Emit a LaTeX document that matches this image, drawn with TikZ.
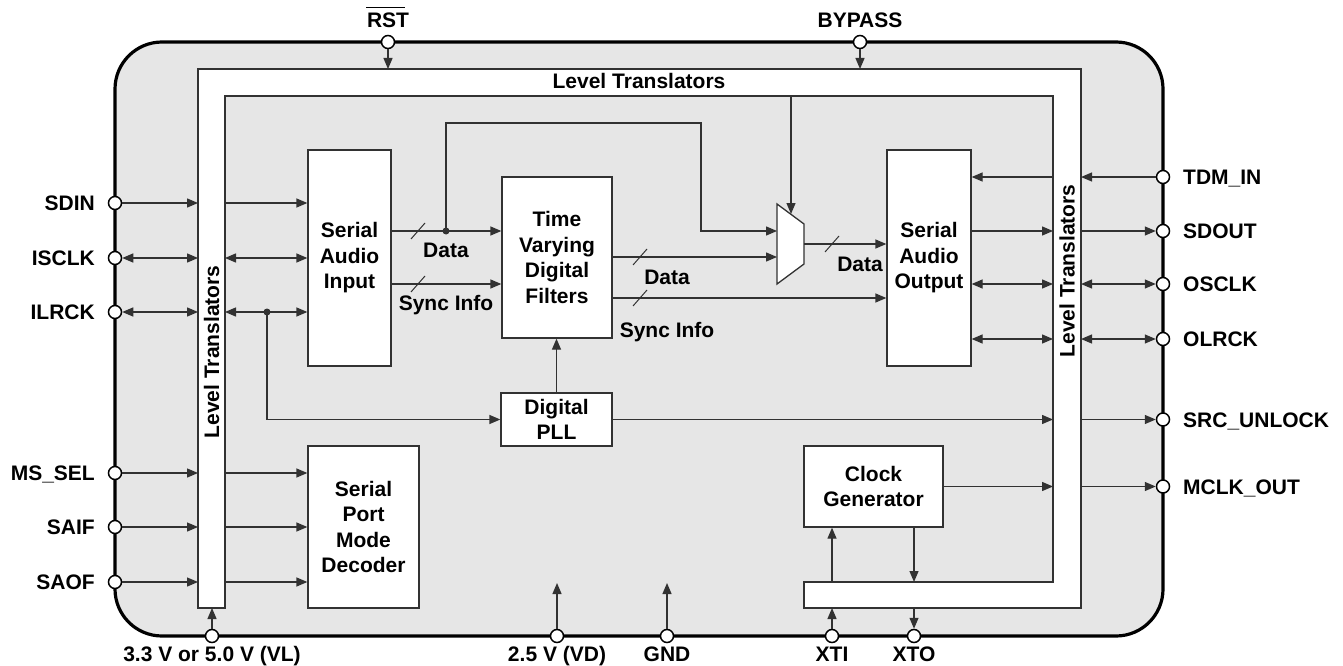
\documentclass[tikz,border=0pt]{standalone}
\usepackage{fontspec}
\setmainfont{Liberation Sans}
\usetikzlibrary{arrows.meta,calc}
\definecolor{bggray}{RGB}{230,230,230}
\definecolor{ln}{RGB}{50,50,50}
\begin{document}
\begin{tikzpicture}[x=1pt,y=-1pt,
  lbl/.style={font=\bfseries\fontsize{21}{25.5}\selectfont, inner sep=0pt},
  blk/.style={draw=ln, line width=1.3pt, fill=white, inner sep=0pt, align=center, font=\bfseries\fontsize{21}{25.5}\selectfont},
  pin/.style={circle, draw=black, line width=1.5pt, fill=white, minimum size=13pt, inner sep=0pt},
  conn/.style={draw=ln, line width=1.3pt, -{Triangle[length=11pt,width=9pt]}},
  bidir/.style={draw=ln, line width=1.3pt, {Triangle[length=11pt,width=9pt]}-{Triangle[length=11pt,width=9pt]}},
  wire/.style={draw=ln, line width=1.3pt},
  bus/.style={draw=ln, line width=1pt},
]
\useasboundingbox (0,0) rectangle (1343,666);

% chip outline
\draw[line width=3.2pt, fill=bggray, rounded corners=47pt] (115,42) rectangle (1163,636);

% level translator band
\draw[ln, line width=1.3pt, fill=white] (198,608) -- (198,69) -- (1081,69) -- (1081,608) -- (804,608) -- (804,582) -- (1053,582) -- (1053,96) -- (225,96) -- (225,608) -- cycle;
\coordinate (LTo) at (198,0);
\coordinate (LTi) at (225,0);
\coordinate (RTi) at (1053,0);
\coordinate (RTo) at (1081,0);
\coordinate (TTo) at (0,69);
\coordinate (TTi) at (0,96);
\coordinate (BTi) at (0,582);
\coordinate (BTo) at (0,608);
\node[lbl, anchor=base] (ltTop) at (639,89) {Level Translators};
\node[lbl, anchor=base, rotate=90] (ltLeft) at (219,352) {Level Translators};
\node[lbl, anchor=base, rotate=90] (ltRight) at (1074.5,271) {Level Translators};

% blocks
\node[blk, minimum width=83pt, minimum height=216pt] (SAI) at (349.5,258) {Serial\\Audio\\Input};
\node[blk, minimum width=110pt, minimum height=161pt] (TVDF) at (557,257.5) {Time\\Varying\\Digital\\Filters};
\node[blk, minimum width=84pt, minimum height=216pt] (SAO) at (929,258) {Serial\\Audio\\Output};
\node[blk, minimum width=111pt, minimum height=162pt] (SPMD) at (363.5,527) {Serial\\Port\\Mode\\Decoder};
\node[blk, minimum width=111pt, minimum height=53pt] (PLL) at (556.5,419.5) {Digital\\PLL};
\node[blk, minimum width=139pt, minimum height=81pt] (CLK) at (873.5,486.5) {Clock\\Generator};

% mux
\draw[ln, line width=1.3pt, fill=white] (777,204) -- (804,224) -- (804,264) -- (777,284) -- cycle;
\coordinate (m1) at (777,231);
\coordinate (m2) at (777,257);
\coordinate (mo) at (804,244);
\coordinate (mt) at (791,214);

% pins
\node[pin] (pSDIN) at (115,203) {};
\node[pin] (pISCLK) at (115,258) {};
\node[pin] (pILRCK) at (115,312) {};
\node[pin] (pMS) at (115,473) {};
\node[pin] (pSAIF) at (115,527) {};
\node[pin] (pSAOF) at (115,582) {};
\node[pin] (pTDM) at (1163,177) {};
\node[pin] (pSDOUT) at (1163,231) {};
\node[pin] (pOSCLK) at (1163,284) {};
\node[pin] (pOLRCK) at (1163,339) {};
\node[pin] (pSRC) at (1163,419.5) {};
\node[pin] (pMCLK) at (1163,486.5) {};
\node[pin] (pRST) at (388,42) {};
\node[pin] (pBYP) at (860,42) {};
\node[pin] (pVL) at (212,636) {};
\node[pin] (pVD) at (557,636) {};
\node[pin] (pGND) at (667,636) {};
\node[pin] (pXTI) at (832,636) {};
\node[pin] (pXTO) at (914,636) {};

% pin labels
\node[lbl, anchor=base east] (tSDIN) at (95,210.5) {SDIN};
\node[lbl, anchor=base east] (tISCLK) at (95,265.5) {ISCLK};
\node[lbl, anchor=base east] (tILRCK) at (95,319.5) {ILRCK};
\node[lbl, anchor=base east] (tMS) at (95,480.5) {MS\_SEL};
\node[lbl, anchor=base east] (tSAIF) at (95,534.5) {SAIF};
\node[lbl, anchor=base east] (tSAOF) at (95,589.5) {SAOF};
\node[lbl, anchor=base west] (tTDM) at (1183,184.5) {TDM\_IN};
\node[lbl, anchor=base west] (tSDOUT) at (1183,238.5) {SDOUT};
\node[lbl, anchor=base west] (tOSCLK) at (1183,291.5) {OSCLK};
\node[lbl, anchor=base west] (tOLRCK) at (1183,346.5) {OLRCK};
\node[lbl, anchor=base west] (tSRC) at (1183,427) {SRC\_UNLOCK};
\node[lbl, anchor=base west] (tMCLK) at (1183,494) {MCLK\_OUT};
\node[lbl, anchor=base] (tRST) at (388,28) {RST};
\draw[line width=1.6pt] ([xshift=-0.5pt]tRST.north west) ++(0,-5.5) -- ++(38.5,0);
\node[lbl, anchor=base] (tBYP) at (860,28) {BYPASS};
\node[lbl, anchor=base] (tVL) at (212,661) {3.3 V or 5.0 V (VL)};
\node[lbl, anchor=base] (tVD) at (557,661) {2.5 V (VD)};
\node[lbl, anchor=base] (tGND) at (667,661) {GND};
\node[lbl, anchor=base] (tXTI) at (832,661) {XTI};
\node[lbl, anchor=base] (tXTO) at (914,661) {XTO};

% left side connectors
\draw[conn] (pSDIN) -- (pSDIN -| LTo);
\draw[conn] (pSDIN -| LTi) -- (pSDIN -| SAI.west);
\draw[bidir] (pISCLK) -- (pISCLK -| LTo);
\draw[bidir] (pISCLK -| LTi) -- (pISCLK -| SAI.west);
\draw[bidir] (pILRCK) -- (pILRCK -| LTo);
\draw[bidir] (pILRCK -| LTi) -- (pILRCK -| SAI.west);
\coordinate (jILR) at (267,312);
\fill[ln] (jILR) circle (3.5pt);
\draw[conn] (jILR) -- (jILR |- PLL.west) -- (PLL.west);
\draw[conn] (pMS) -- (pMS -| LTo);
\draw[conn] (pMS -| LTi) -- (pMS -| SPMD.west);
\draw[conn] (pSAIF) -- (pSAIF -| LTo);
\draw[conn] (pSAIF -| LTi) -- (pSAIF -| SPMD.west);
\draw[conn] (pSAOF) -- (pSAOF -| LTo);
\draw[conn] (pSAOF -| LTi) -- (pSAOF -| SPMD.west);

% SAI to TVDF
\coordinate (dataJ) at (446,231);
\coordinate (syncY) at (0,284);
\draw[conn] (SAI.east |- dataJ) -- (dataJ -| TVDF.west);
\fill[ln] (dataJ) circle (3.5pt);
\draw[conn] (SAI.east |- syncY) -- (TVDF.west |- syncY);
\coordinate (fb1) at (446,123);
\coordinate (fb2) at (701,123);
\draw[conn] (dataJ) -- (fb1) -- (fb2) -- (fb2 |- m1) -- (m1);

% TVDF outputs
\coordinate (tsY) at (0,298);
\draw[conn] (TVDF.east |- m2) -- (m2);
\draw[conn] (TVDF.east |- tsY) -- (SAO.west |- tsY);
\draw[conn] (mo) -- (SAO.west |- mo);
\coordinate (bpI) at (791,96);
\draw[conn] (bpI) -- (mt);

% bus slashes
\foreach \c in {(418,231),(418,284),(640,257),(640,298),(832,244)}{
  \draw[bus] \c ++(-7,8) -- ++(14,-16);
}
\node[lbl, anchor=base] (lD1) at (446,257.5) {Data};
\node[lbl, anchor=base] (lS1) at (446,310) {Sync Info};
\node[lbl, anchor=base] (lD2) at (667,284.5) {Data};
\node[lbl, anchor=base] (lS2) at (667,337.5) {Sync Info};
\node[lbl, anchor=base] (lD3) at (860,271.5) {Data};

% PLL
\draw[conn] (PLL.north) -- (PLL.north |- TVDF.south);
\draw[conn] (PLL.east) -- (PLL.east -| RTi);

% right side
\draw[conn] (pTDM) -- (pTDM -| RTo);
\draw[conn] (pTDM -| RTi) -- (pTDM -| SAO.east);
\draw[conn] (pSDOUT -| SAO.east) -- (pSDOUT -| RTi);
\draw[conn] (pSDOUT -| RTo) -- (pSDOUT);
\draw[bidir] (pOSCLK -| SAO.east) -- (pOSCLK -| RTi);
\draw[bidir] (pOSCLK -| RTo) -- (pOSCLK);
\draw[bidir] (pOLRCK -| SAO.east) -- (pOLRCK -| RTi);
\draw[bidir] (pOLRCK -| RTo) -- (pOLRCK);
\draw[conn] (pSRC -| RTo) -- (pSRC);
\draw[conn] (CLK.east) -- (CLK.east -| RTi);
\draw[conn] (pMCLK -| RTo) -- (pMCLK);

% clock / crystal
\draw[conn] (pXTI |- BTi) -- (pXTI |- CLK.south);
\draw[conn] (pXTO |- CLK.south) -- (pXTO |- BTi);
\draw[conn] (pXTI) -- (pXTI |- BTo);
\draw[conn] (pXTO |- BTo) -- (pXTO);

% bottom and top pins
\draw[conn] (pVL) -- (pVL |- BTo);
\coordinate (vdE) at (557,583);
\coordinate (gndE) at (667,583);
\draw[conn] (pVD) -- (vdE);
\draw[conn] (pGND) -- (gndE);
\draw[conn] (pRST) -- (pRST |- TTo);
\draw[conn] (pBYP) -- (pBYP |- TTo);
\end{tikzpicture}
\end{document}
